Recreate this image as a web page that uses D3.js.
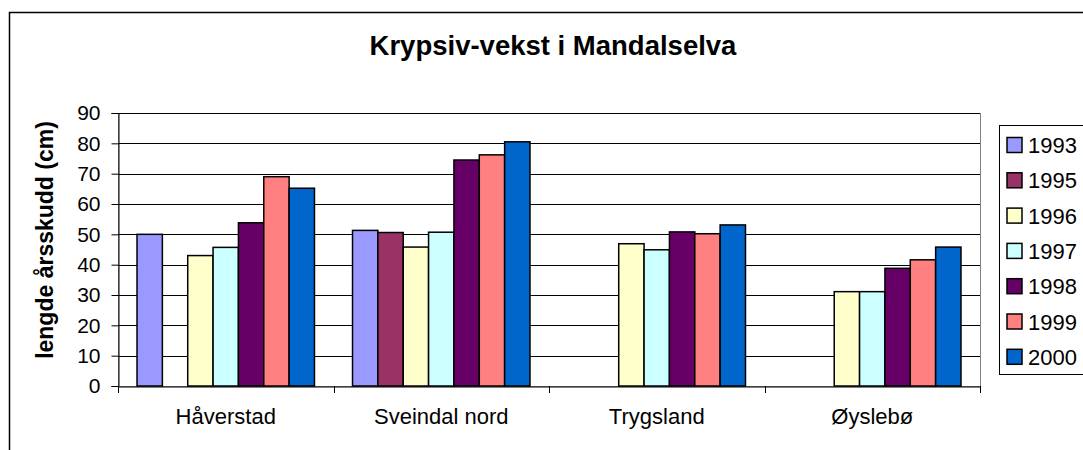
<!DOCTYPE html>
<html>
<head>
<meta charset="utf-8">
<script src="https://cdn.jsdelivr.net/npm/d3@7"></script>
<style>
  body { margin: 0; background: #fff; }
  text { font-family: "Liberation Sans", Arial, sans-serif; }
</style>
</head>
<body>
<svg class="chart_svg"></svg>
<script>
// data
const categories = ["Håverstad", "Sveindal nord", "Trygsland", "Øyslebø"];
const years = ["1993", "1995", "1996", "1997", "1998", "1999", "2000"];
const v1993 = [50, 51.3, null, null];
const v1995 = [null, 50.6, null, null];
const v1996 = [43, 45.8, 46.9, 31.1];
const v1997 = [45.7, 50.7, 44.9, 31.1];
const v1998 = [53.8, 74.5, 50.8, 38.8];
const v1999 = [69, 76.2, 50.2, 41.6];
const v2000 = [65.2, 80.5, 53.1, 45.8];
const yTicks = [0, 10, 20, 30, 40, 50, 60, 70, 80, 90];
const colors = ["#9999FF", "#993366", "#FFFFCC", "#CCFFFF", "#660066", "#FF8080", "#0066CC"];

const seriesValues = [v1993, v1995, v1996, v1997, v1998, v1999, v2000];
let bars = [];
categories.forEach((c, i) => {
    years.forEach((y, j) => {
        if (seriesValues[j][i] != null) bars.push({cat: c, year: y, value: seriesValues[j][i], color: colors[j]});
    });
});

let width = 1083;
let height = 450;
let margin = {top: 113, right: 103, bottom: 64, left: 118};

let svg = d3.select(".chart_svg")
    .attr("width", width)
    .attr("height", height);

// outer chart border
svg.append("rect")
    .attr("x", 9.5).attr("y", 12.5)
    .attr("width", 1200).attr("height", 600)
    .attr("fill", "none")
    .attr("stroke", "#000")
    .attr("stroke-width", 1.5);

let x0 = d3.scaleBand()
    .domain(categories)
    .range([margin.left, width - margin.right]);

let barW = x0.bandwidth() / 8.5;
let x1 = d3.scaleBand()
    .domain(years)
    .range([barW * 0.75, x0.bandwidth() - barW * 0.75]);

let yScale = d3.scaleLinear()
    .domain([0, 90])
    .range([height - margin.bottom, margin.top]);

// plot area border (grey)
svg.append("rect")
    .attr("x", margin.left + 0.5)
    .attr("y", margin.top + 0.5)
    .attr("width", width - margin.right - margin.left)
    .attr("height", height - margin.bottom - margin.top)
    .attr("fill", "none")
    .attr("stroke", "#808080");

// gridlines
svg.append("g")
    .selectAll("line")
    .data(yTicks.slice(1))
    .join("line")
    .attr("x1", margin.left)
    .attr("x2", width - margin.right)
    .attr("y1", d => Math.round(yScale(d)) + 0.5)
    .attr("y2", d => Math.round(yScale(d)) + 0.5)
    .attr("stroke", "#000");

// bars
svg.append("g")
    .selectAll("rect")
    .data(bars)
    .join("rect")
    .attr("x", d => x0(d.cat) + x1(d.year))
    .attr("y", d => yScale(d.value))
    .attr("width", x1.bandwidth())
    .attr("height", d => yScale(0) - yScale(d.value))
    .attr("fill", d => d.color)
    .attr("stroke", "#000")
    .attr("stroke-width", 1.5);

// y axis
let yAxis = svg.append("g")
    .attr("transform", `translate(${margin.left + 0.5}, 0)`)
    .call(d3.axisLeft(yScale).tickValues(yTicks).tickSize(7).tickPadding(11));
yAxis.select(".domain").attr("stroke", "#000");
yAxis.selectAll("line").attr("stroke", "#000");
yAxis.selectAll("text")
    .attr("font-size", 21)
    .attr("font-family", "Liberation Sans, Arial, sans-serif")
    .attr("fill", "#000");

// x axis
let xAxis = svg.append("g")
    .attr("transform", `translate(0, ${height - margin.bottom + 0.5})`)
    .call(d3.axisBottom(x0).tickSize(0).tickPadding(22));
xAxis.select(".domain").attr("stroke", "#000");
xAxis.selectAll("text")
    .attr("font-size", 22)
    .attr("font-family", "Liberation Sans, Arial, sans-serif")
    .attr("fill", "#000");
// boundary ticks
svg.append("g")
    .selectAll("line")
    .data(categories.map(c => x0(c)).concat([x0.range()[1]]))
    .join("line")
    .attr("x1", d => Math.round(d) + 0.5)
    .attr("x2", d => Math.round(d) + 0.5)
    .attr("y1", height - margin.bottom)
    .attr("y2", height - margin.bottom + 7)
    .attr("stroke", "#000");

// title
svg.append("text")
    .attr("x", 553)
    .attr("y", 55)
    .attr("text-anchor", "middle")
    .attr("font-size", 27.5)
    .attr("font-weight", "bold")
    .text("Krypsiv-vekst i Mandalselva");

// y label
svg.append("text")
    .attr("transform", "translate(53, 240) rotate(-90)")
    .attr("text-anchor", "middle")
    .attr("font-size", 23)
    .attr("font-weight", "bold")
    .text("lengde årsskudd (cm)");

// legend
let legend = svg.append("g");
legend.append("rect")
    .attr("x", 999.5).attr("y", 125.5)
    .attr("width", 200).attr("height", 249)
    .attr("fill", "#fff")
    .attr("stroke", "#000");

let items = legend.selectAll("g.item")
    .data(years)
    .join("g")
    .attr("class", "item")
    .attr("transform", (d, i) => `translate(0, ${145 + i * 35.3})`);
items.append("rect")
    .attr("x", 1007).attr("y", -7.5)
    .attr("width", 15).attr("height", 15)
    .attr("fill", (d, i) => colors[i])
    .attr("stroke", "#000")
    .attr("stroke-width", 1.5);
items.append("text")
    .attr("x", 1028)
    .attr("y", 8)
    .attr("font-size", 22)
    .text(d => d);
</script>
</body>
</html>
